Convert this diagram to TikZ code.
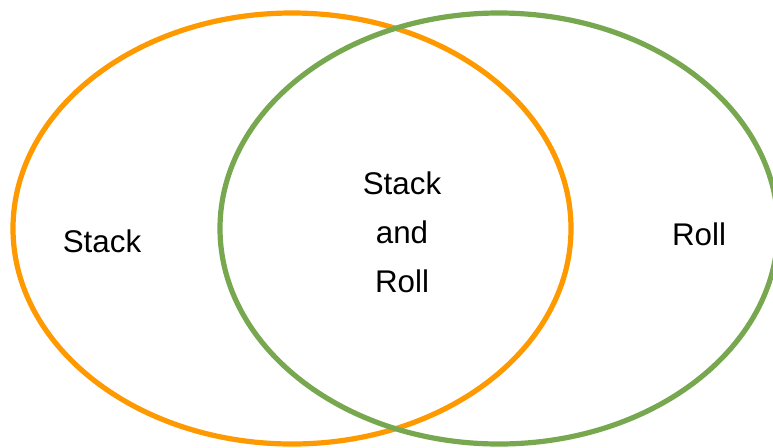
\documentclass[tikz,border=0pt]{standalone}
\usepackage{fontspec}
\setmainfont{Liberation Sans}
\usepackage{tikz}

\begin{document}
\begin{tikzpicture}[x=0.75pt,y=-0.75pt]

	\definecolor{setorange}{RGB}{255,153,0}
	\definecolor{setgreen}{RGB}{119,168,80}

	\tikzstyle{ring} = [draw,line width=3.9pt]
	\tikzset{label/.style = {font=\fontsize{23.5}{36.75}\selectfont,align=center,inner sep=0pt}}

	\useasboundingbox (0,0) rectangle (773,447);

	\draw[ring,setorange] (292,228.5) ellipse (279 and 215.5);
	\draw[ring,setgreen] (499,228.5) ellipse (279 and 215.5);

	\node[label,anchor=base] (stack) at (102,252) {Stack};
	\node[label] (both) at (402,232) {Stack\\and\\Roll};
	\node[label,anchor=base] (roll) at (699,245) {Roll};
\end{tikzpicture}
\end{document}
